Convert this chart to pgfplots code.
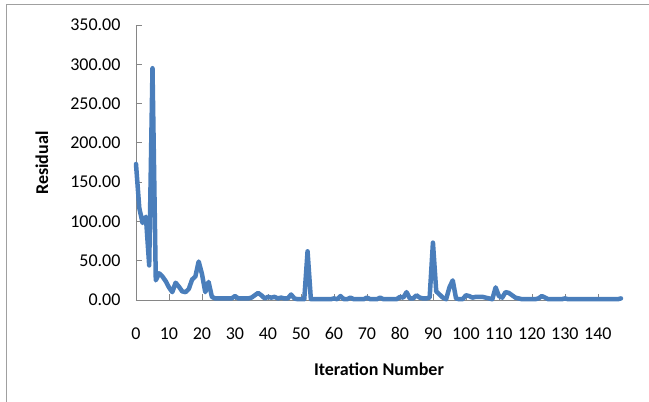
\documentclass[border=0pt]{standalone}
\usepackage{pgfplots}
\pgfplotsset{compat=1.18}
\usepackage{fontspec}
\setmainfont{Carlito}
\definecolor{linecol}{HTML}{4A7EBB}
\definecolor{axcol}{HTML}{868686}
\definecolor{framecol}{HTML}{A0A0A0}
\begin{document}
\begin{tikzpicture}
\useasboundingbox (0pt,0pt) rectangle (649pt,402pt);
\draw[framecol,line width=1pt] (6pt,-10pt) -- (6pt,397pt) -- (660pt,397pt);
\begin{axis}[
  at={(136pt,102pt)}, anchor=south west,
  scale only axis, width=485pt, height=275pt,
  xmin=0, xmax=147, ymin=0, ymax=350,
  axis x line=bottom, axis y line=left,
  axis line style={-, axcol, line width=0.8pt},
  xtick={0,10,...,140}, ytick={0,50,...,350},
  tick align=inside, major tick length=6pt,
  tick style={axcol, line width=0.8pt},
  font=\fontsize{18}{21}\selectfont,
  /pgf/number format/assume math mode=true,
  yticklabel style={/pgf/number format/fixed, /pgf/number format/fixed zerofill, /pgf/number format/precision=2, xshift=-12pt},
  xticklabel style={yshift=-24pt},
  xlabel={\bfseries Iteration Number},
  ylabel={\bfseries Residual},
  xlabel style={at={(axis description cs:0.501,-0.251)}, anchor=center},
  ylabel style={at={(axis description cs:-0.194,0.498)}, anchor=center},
  clip=false,
]
\addplot[linecol, line width=4.5pt, line join=round, line cap=round, mark=none] table {
x y
0 173
1 117
2 98
3 106
4 44
5 295
6 25
7 34
8 30
9 24
10 16
11 10
12 22
13 17
14 11
15 10
16 14
17 26
18 30
19 49
20 33
21 10
22 23
23 4
24 2
25 2
26 2
27 2
28 2
29 2
30 5
31 2
32 2
33 2
34 2
35 3
36 6
37 9
38 6
39 2
40 4
41 3
42 4
43 2
44 3
45 2
46 2
47 7
48 2
49 1
50 1
51 1
52 62
53 1
54 1
55 1
56 1
57 1
58 1
59 1
60 2
61 1
62 5
63 1
64 1
65 3
66 1
67 1
68 1
69 1
70 3
71 1
72 1
73 1
74 3
75 1
76 1
77 1
78 1
79 1
80 4
81 3
82 10
83 2
84 2
85 6
86 3
87 2
88 2
89 3
90 73
91 11
92 7
93 3
94 1
95 16
96 25
97 2
98 1
99 1
100 6
101 5
102 3
103 4
104 4
105 4
106 3
107 2
108 1
109 16
110 5
111 3
112 10
113 9
114 6
115 3
116 2
117 1
118 1
119 1
120 1
121 1
122 2
123 5
124 3
125 1
126 1
127 1
128 1
129 1
130 2
131 1
132 1
133 1
134 1
135 1
136 1
137 1
138 1
139 1
140 1
141 1
142 1
143 1
144 1
145 1
146 1
147 2
};
\end{axis}
\end{tikzpicture}
\end{document}
